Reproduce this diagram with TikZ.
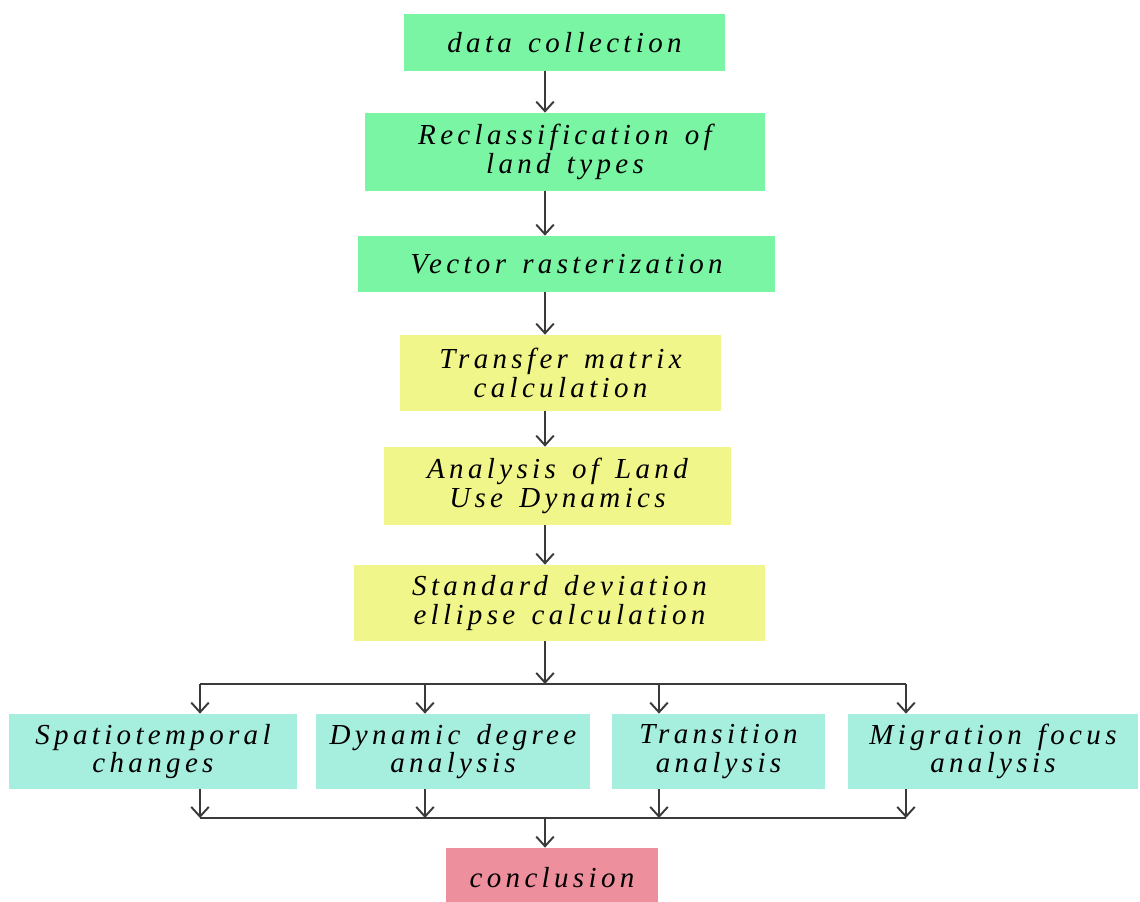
\documentclass[tikz,border=0pt]{standalone}
\usepackage{fontspec}
\setmainfont{Liberation Serif}[LetterSpace=15, WordSpace=1.4]
\usepackage{tikz}
\usetikzlibrary{positioning}
\usetikzlibrary{arrows.meta}

\definecolor{stepgreen}{RGB}{122,245,164}
\definecolor{stepyellow}{RGB}{241,246,138}
\definecolor{stepcyan}{RGB}{166,238,222}
\definecolor{steppink}{RGB}{238,143,158}
\definecolor{linegray}{RGB}{58,58,58}

\tikzset{
    box/.style={inner sep=0pt, align=center, font=\fontsize{16.5}{16.2}\selectfont\itshape},
    link/.style={draw=linegray, line width=1.1pt, -{Straight Barb[length=5.5pt,width=10pt,line width=1.1pt]}},
    bar/.style={draw=linegray, line width=1.1pt}
}

\begin{document}
\begin{tikzpicture}[x=0.02cm, y=-0.02cm]
    \useasboundingbox (0,0) rectangle (1140,902);

    \node [box, fill=stepgreen, minimum width=6.42cm, minimum height=1.14cm] (collect) at (564.5,42.5) {data collection};
    \node [box, fill=stepgreen, minimum width=8cm, minimum height=1.56cm] (reclass) at (565,152) {Reclassification of\\land types};
    \node [box, fill=stepgreen, minimum width=8.34cm, minimum height=1.12cm] (raster) at (566.5,264) {Vector rasterization};
    \node [box, fill=stepyellow, minimum width=6.42cm, minimum height=1.52cm] (transfer) at (560.5,373) {Transfer matrix\\calculation};
    \node [box, fill=stepyellow, minimum width=6.94cm, minimum height=1.56cm] (dynamics) at (557.5,486) {Analysis of Land\\Use Dynamics};
    \node [box, fill=stepyellow, minimum width=8.22cm, minimum height=1.52cm] (ellipse) at (559.5,603) {Standard deviation\\ellipse calculation};

    \node [box, fill=stepcyan, minimum width=5.76cm, minimum height=1.5cm] (spatio) at (153,751.5) {Spatiotemporal\\changes};
    \node [box, fill=stepcyan, minimum width=5.48cm, minimum height=1.5cm] (degree) at (453,751.5) {Dynamic degree\\analysis};
    \node [box, fill=stepcyan, minimum width=4.26cm, minimum height=1.5cm] (transition) at (718.5,751.5) {Transition\\analysis};
    \node [box, fill=stepcyan, minimum width=5.8cm, minimum height=1.5cm] (migration) at (993,751.5) {Migration focus\\analysis};

    \node [box, fill=steppink, minimum width=4.24cm, minimum height=1.2cm] (conclusion) at (552,878) {conclusion};

    \coordinate (spine) at (545,0);
    \coordinate (split) at (545,684);
    \coordinate (merge) at (545,818);

    \draw [link] (collect.south -| spine) -- (reclass.north -| spine);
    \draw [link] (reclass.south -| spine) -- (raster.north -| spine);
    \draw [link] (raster.south -| spine) -- (transfer.north -| spine);
    \draw [link] (transfer.south -| spine) -- (dynamics.north -| spine);
    \draw [link] (dynamics.south -| spine) -- (ellipse.north -| spine);
    \draw [link] (ellipse.south -| spine) -- (split);

    \draw [bar] (split -| 200,0) -- (split -| 906,0);
    \draw [link] (split -| 200,0) -- (spatio.north -| 200,0);
    \draw [link] (split -| 425,0) -- (degree.north -| 425,0);
    \draw [link] (split -| 659,0) -- (transition.north -| 659,0);
    \draw [link] (split -| 906,0) -- (migration.north -| 906,0);

    \draw [link] (spatio.south -| 200,0) -- (merge -| 200,0);
    \draw [link] (degree.south -| 425,0) -- (merge -| 425,0);
    \draw [link] (transition.south -| 659,0) -- (merge -| 659,0);
    \draw [link] (migration.south -| 906,0) -- (merge -| 906,0);
    \draw [bar] (merge -| 200,0) -- (merge -| 906,0);
    \draw [link] (merge) -- (conclusion.north -| merge);
\end{tikzpicture}
\end{document}
